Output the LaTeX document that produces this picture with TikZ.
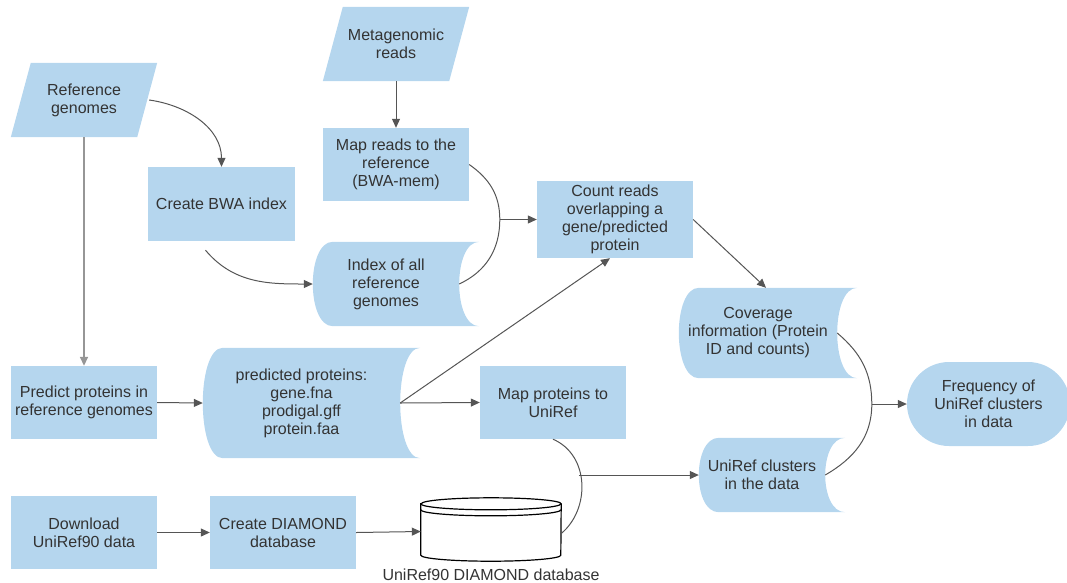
\documentclass[tikz,border=0pt]{standalone}
\usepackage{fontspec}
\setmainfont{Liberation Sans}
\usetikzlibrary{arrows.meta,backgrounds,calc}
\definecolor{boxfill}{RGB}{181,214,238}
\definecolor{txt}{RGB}{51,51,51}
\definecolor{ln}{RGB}{85,85,85}
\definecolor{lnlight}{RGB}{150,150,150}
\newcommand{\storedshape}[1]{%
  \fill[boxfill] ([xshift=20pt]#1.north west) -- ([xshift=20pt]#1.north east)
    .. controls ([xshift=-6.67pt]#1.north east) and ([xshift=-6.67pt]#1.south east) .. ([xshift=20pt]#1.south east)
    -- ([xshift=20pt]#1.south west)
    .. controls ([xshift=-6.67pt]#1.south west) and ([xshift=-6.67pt]#1.north west) .. ([xshift=20pt]#1.north west) -- cycle;}
\newcommand{\parashape}[1]{%
  \fill[boxfill] ([xshift=20pt]#1.north west) -- (#1.north east) -- ([xshift=-20pt]#1.south east) -- (#1.south west) -- cycle;}
\begin{document}
\begin{tikzpicture}[x=1pt,y=1pt,
  lbl/.style={align=center,text=txt,font=\fontsize{16}{18}\selectfont,inner sep=0pt},
  box/.style={lbl,fill=boxfill},
  conn/.style={draw=ln,line width=1pt},
  arr/.style={conn,-{Triangle[length=9pt,width=8pt]}},
  dbline/.style={draw=black,line width=1.2pt}]
\useasboundingbox (0,0) rectangle (1067,-582);

% nodes
\node[lbl,minimum width=146pt,minimum height=74pt] (refg) at (84,-100) {Reference\\genomes};
\node[lbl,minimum width=146pt,minimum height=74pt] (metag) at (396,-44) {Metagenomic\\reads};
\node[box,minimum width=147pt,minimum height=74pt] (bwa) at (221.5,-204) {Create BWA index};
\node[box,minimum width=146pt,minimum height=73pt] (mapr) at (396,-164.5) {Map reads to the\\reference\\(BWA-mem)};
\node[lbl,minimum width=146pt,minimum height=84pt] (idx) at (386,-284) {Index of all\\reference\\genomes};
\node[box,minimum width=156pt,minimum height=77pt] (count) at (615,-219.5) {Count reads\\overlapping a\\gene/predicted\\protein};
\node[lbl,minimum width=158pt,minimum height=90pt] (cov) at (758,-333) {Coverage\\information (Protein\\ID and counts)};
\node[box,rounded corners=42pt,minimum width=163pt,minimum height=84pt] (freq) at (988.5,-404) {Frequency of\\UniRef clusters\\in data};
\node[lbl,minimum width=126pt,minimum height=74pt] (unic) at (762,-475) {UniRef clusters\\in the data};
\node[box,minimum width=146pt,minimum height=73pt] (pred) at (84,-402.5) {Predict proteins in\\reference genomes};
\node[box,minimum width=146pt,minimum height=73pt] (down) at (84,-532.5) {Download\\UniRef90 data};
\node[lbl,minimum width=197pt,minimum height=110pt] (pp) at (301.5,-403) {predicted proteins:\\gene.fna\\prodigal.gff\\protein.faa};
\node[box,minimum width=146pt,minimum height=73pt] (mapp) at (553,-402.5) {Map proteins to\\UniRef};
\node[box,minimum width=146pt,minimum height=73pt] (cdia) at (283,-532.5) {Create DIAMOND\\database};
\node[minimum width=140pt,minimum height=63pt,inner sep=0pt] (db) at (491,-529.5) {};
\node[lbl] (dblabel) at (491,-575) {UniRef90 DIAMOND database};

% shapes behind text
\begin{scope}[on background layer]
  \parashape{refg}
  \parashape{metag}
  \storedshape{idx}
  \storedshape{cov}
  \storedshape{unic}
  \storedshape{pp}
\end{scope}

% database cylinder
\filldraw[dbline,fill=white] ([yshift=-6pt]db.north west) -- ([yshift=6pt]db.south west)
  arc[start angle=180,end angle=360,x radius=70pt,y radius=6pt]
  -- ([yshift=-6pt]db.north east)
  arc[start angle=0,end angle=180,x radius=70pt,y radius=6pt] -- cycle;
\draw[dbline] ([yshift=-6pt]db.north west) arc[start angle=180,end angle=360,x radius=70pt,y radius=6pt];
\draw[dbline] ([yshift=-12pt]db.north west) arc[start angle=180,end angle=360,x radius=70pt,y radius=6pt];

% junction points
\coordinate (j1) at ([xshift=-37pt]count.west);
\coordinate (j2) at ([xshift=-120pt]unic.west);
\coordinate (j3) at ([xshift=-35pt]freq.west);

% connectors
\draw[arr] ([xshift=-8pt]refg.east) to[out=-8,in=90] (bwa.north);
\draw[draw=lnlight,line width=1.6pt,-{Triangle[length=9pt,width=8pt]}] (refg.south) -- (pred.north);
\draw[arr] (metag.south) -- (mapr.north);
\draw[arr] ([shift={(-16pt,-9pt)}]bwa.south) to[out=-50,in=180] (idx.west);
\draw[conn] (mapr.east) to[out=-35,in=90] (j1) to[out=-90,in=25] (idx.east);
\draw[arr] (j1) -- (count.west);
\draw[arr] (pp.east) -- ([xshift=-5pt]count.south);
\draw[arr] (pp.east) -- (mapp.west);
\draw[arr] (pred.east) -- (pp.west);
\draw[arr] (down.east) -- (cdia.west);
\draw[arr] (cdia.east) -- ([yshift=-2pt]db.west);
\draw[conn] (mapp.south) .. controls ([shift={(37pt,-16pt)}]mapp.south) and ([shift={(29pt,20pt)}]db.east) .. ([yshift=-4pt]db.east);
\draw[arr] (j2) -- (unic.west);
\draw[arr] (count.east) -- ([xshift=8pt]cov.north);
\draw[conn] (cov.east) to[out=-40,in=90] (j3) to[out=-90,in=30] (unic.east);
\draw[arr] (j3) -- (freq.west);
\end{tikzpicture}
\end{document}
